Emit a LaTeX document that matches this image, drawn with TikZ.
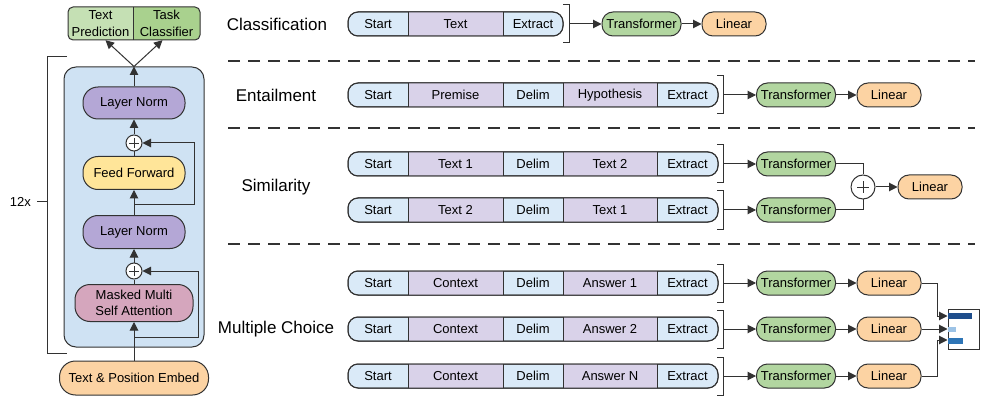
\documentclass[tikz,border=0pt]{standalone}
\usepackage{fontspec}
\setmainfont{Liberation Sans}
\usetikzlibrary{arrows.meta}
\definecolor{edge}{RGB}{50,50,50}
\definecolor{seqblue}{RGB}{218,234,248}
\definecolor{seqpurple}{RGB}{217,210,233}
\definecolor{trgreen}{RGB}{178,214,160}
\definecolor{linorange}{RGB}{252,211,163}
\definecolor{blkblue}{RGB}{207,226,243}
\definecolor{lnpurple}{RGB}{180,167,214}
\definecolor{ffyellow}{RGB}{255,229,153}
\definecolor{mmpink}{RGB}{213,166,189}
\definecolor{tpgreen}{RGB}{197,224,180}
\definecolor{tcgreen}{RGB}{169,209,142}
\definecolor{bardark}{RGB}{31,78,140}
\definecolor{barlight}{RGB}{157,195,230}
\definecolor{barmid}{RGB}{46,117,182}
\newcommand{\seqrow}[4]{%
 \filldraw[seqline, fill=seqblue, rounded corners=10pt] (348,#2-12) rectangle (718,#2+12);
 \fill[seqpurple] (408,#2-12) rectangle (503,#2+12);
 \fill[seqpurple] (563,#2-12) rectangle (657,#2+12);
 \draw[seqline, rounded corners=10pt] (348,#2-12) rectangle (718,#2+12);
 \foreach \xx in {408,503,563,657} \draw[seqline] (\xx,#2-12) -- (\xx,#2+12);
 \node[seqtxt] (#1a) at (378,#2) {Start};
 \node[seqtxt] (#1b) at (455.5,#2) {#3};
 \node[seqtxt] (#1c) at (533,#2) {Delim};
 \node[seqtxt] (#1d) at (610,#2) {#4};
 \node[seqtxt] (#1e) at (687.5,#2) {Extract};
 \draw[seqline] (717,#2-19) -- (723,#2-19) -- (723,#2+19) -- (717,#2+19);
 \coordinate (#1k) at (723,#2);
}
\begin{document}
\begin{tikzpicture}[x=1pt,y=-1pt,
 seqline/.style={draw=edge, line width=1pt},
 ln/.style={draw=edge, line width=1pt},
 arr/.style={ln, -{Triangle[length=8.5pt,width=8.5pt]}},
 txt/.style={font=\fontsize{13}{16.5}\selectfont},
 seqtxt/.style={txt, inner sep=0pt},
 pill/.style={txt, draw=edge, line width=1pt, rounded corners=11pt, minimum height=24pt, inner sep=0pt},
 block/.style={txt, draw=edge, line width=1pt, rounded corners=15pt, inner sep=0pt, align=center},
 plus/.style={circle, draw=edge, line width=1pt, fill=white, inner sep=0pt},
 lbl/.style={font=\fontsize{17}{20}\selectfont},
 sepline/.style={draw=edge, line width=1.1pt, dash pattern=on 12pt off 8pt}
]
\useasboundingbox (0,0) rectangle (982,398);
% ---------------- left column ----------------
\node[draw=edge, line width=1pt, fill=blkblue, rounded corners=12pt, minimum width=140pt, minimum height=280pt] (blk) at (134,207) {};
\draw[ln] (67,57) -- (47,57) -- (47,353) -- (67,353);
\coordinate (tick) at (47,202);
\node[txt, anchor=east, inner sep=0pt] (rep) at (31,202) {12x};
\draw[ln] (37,202) -- (tick);
% top output box
\fill[tcgreen, rounded corners=5pt] (68,7) rectangle (200,40);
\begin{scope}
 \clip[rounded corners=5pt] (68,7) rectangle (200,40);
 \fill[tpgreen] (68,7) rectangle (133,40);
\end{scope}
\draw[ln, rounded corners=5pt] (68,7) rectangle (200,40);
\draw[ln] (133,7) -- (133,40);
\node[txt, align=center, inner sep=0pt, minimum width=65pt, minimum height=33pt] (tp) at (100.5,23.5) {Text\\Prediction};
\node[txt, align=center, inner sep=0pt, minimum width=67pt, minimum height=33pt] (tc) at (166.5,23.5) {Task\\Classifier};
% blocks
\node[block, fill=lnpurple, minimum width=102pt, minimum height=32pt] (ln1) at (134,103) {Layer Norm};
\node[plus, minimum size=16pt] (p1) at (134,143) {};
\node[block, fill=ffyellow, minimum width=102pt, minimum height=33pt] (ff) at (134,173) {Feed Forward};
\node[block, fill=lnpurple, minimum width=102pt, minimum height=33pt] (ln2) at (134,232) {Layer Norm};
\node[plus, minimum size=16pt] (p2) at (134,271) {};
\node[block, fill=mmpink, minimum width=118pt, minimum height=37pt] (mm) at (134,303) {Masked Multi\\Self Attention};
\node[block, fill=linorange, minimum width=149pt, minimum height=34pt, rounded corners=16pt] (emb) at (134,378) {Text \& Position Embed};
\foreach \p in {p1,p2}{
 \draw[edge, line width=0.7pt] ([xshift=-5pt]\p.center) -- ([xshift=5pt]\p.center);
 \draw[edge, line width=0.7pt] ([yshift=-5pt]\p.center) -- ([yshift=5pt]\p.center);
}
\draw[arr] (emb.north) -- (mm.south);
\draw[ln] (mm.north) -- (p2.south);
\draw[arr] (p2.north) -- (ln2.south);
\draw[arr] (ln2.north) -- (ff.south);
\draw[ln] (ff.north) -- (p1.south);
\draw[arr] (p1.north) -- (ln1.south);
\draw[arr] (ln1.north) -- (blk.north);
\draw[arr] (blk.north) -- ([xshift=5pt]tp.south);
\draw[arr] (blk.north) -- ([xshift=-4pt]tc.south);
\coordinate (r1) at (134,205);
\draw[arr] (r1) -- (194,205) -- (194,143) -- (p1.east);
\coordinate (r2) at (134,337);
\draw[arr] (r2) -- (198,337) -- (198,271) -- (p2.east);
% ---------------- task labels & separators ----------------
\node[lbl] (lcl) at (277,24) {Classification};
\node[lbl] (len) at (276,95) {Entailment};
\node[lbl] (lsi) at (276,187) {Similarity};
\node[lbl] (lmc) at (276,329) {Multiple Choice};
\draw[sepline] (228,61) -- (975,61);
\draw[sepline] (228,128) -- (975,128);
\draw[sepline] (228,244) -- (975,244);
% ---------------- classification ----------------
\filldraw[seqline, fill=seqblue, rounded corners=10pt] (348,12) rectangle (563,36);
\fill[seqpurple] (408,12) rectangle (503,36);
\draw[seqline, rounded corners=10pt] (348,12) rectangle (563,36);
\draw[seqline] (408,12) -- (408,36);
\draw[seqline] (503,12) -- (503,36);
\node[seqtxt] (ca) at (378,24) {Start};
\node[seqtxt] (cb) at (455.5,24) {Text};
\node[seqtxt] (ce) at (533,24) {Extract};
\draw[seqline] (563,5) -- (569,5) -- (569,43) -- (563,43);
\coordinate (ck) at (569,24);
\node[pill, fill=trgreen, minimum width=79pt] (ct) at (641.5,24) {Transformer};
\node[pill, fill=linorange, minimum width=64pt] (cl) at (734,24) {Linear};
\draw[arr] (ck) -- (ct.west);
\draw[arr] (ct.east) -- (cl.west);
% ---------------- entailment ----------------
\seqrow{e}{95}{Premise}{Hypothesis}
\node[pill, fill=trgreen, minimum width=79pt] (et) at (796,95) {Transformer};
\node[pill, fill=linorange, minimum width=64pt] (el) at (889,95) {Linear};
\draw[arr] (ek) -- (et.west);
\draw[arr] (et.east) -- (el.west);
% ---------------- similarity ----------------
\seqrow{s}{164}{Text 1}{Text 2}
\seqrow{u}{210}{Text 2}{Text 1}
\node[pill, fill=trgreen, minimum width=79pt] (st1) at (796,164) {Transformer};
\node[pill, fill=trgreen, minimum width=79pt] (st2) at (796,210) {Transformer};
\node[plus, minimum size=24pt] (sp) at (863,187) {};
\draw[edge, line width=0.8pt] ([xshift=-6pt]sp.center) -- ([xshift=6pt]sp.center);
\draw[edge, line width=0.8pt] ([yshift=-6pt]sp.center) -- ([yshift=6pt]sp.center);
\node[pill, fill=linorange, minimum width=64pt] (sl) at (930,187) {Linear};
\draw[arr] (sk) -- (st1.west);
\draw[arr] (uk) -- (st2.west);
\draw[ln] (st1.east) -| (sp.north);
\draw[ln] (st2.east) -| (sp.south);
\draw[arr] (sp.east) -- (sl.west);
% ---------------- multiple choice ----------------
\seqrow{m}{283}{Context}{Answer 1}
\seqrow{n}{329}{Context}{Answer 2}
\seqrow{o}{376}{Context}{Answer N}
\node[pill, fill=trgreen, minimum width=79pt] (mt1) at (796,283) {Transformer};
\node[pill, fill=trgreen, minimum width=79pt] (mt2) at (796,329) {Transformer};
\node[pill, fill=trgreen, minimum width=79pt] (mt3) at (796,376) {Transformer};
\node[pill, fill=linorange, minimum width=64pt] (ml1) at (889,283) {Linear};
\node[pill, fill=linorange, minimum width=64pt] (ml2) at (889,329) {Linear};
\node[pill, fill=linorange, minimum width=64pt] (ml3) at (889,376) {Linear};
\draw[arr] (mk) -- (mt1.west);
\draw[arr] (nk) -- (mt2.west);
\draw[arr] (ok) -- (mt3.west);
\draw[arr] (mt1.east) -- (ml1.west);
\draw[arr] (mt2.east) -- (ml2.west);
\draw[arr] (mt3.east) -- (ml3.west);
\node[draw=edge, line width=1pt, fill=white, minimum width=31pt, minimum height=40pt, inner sep=0pt] (chart) at (963.5,329) {};
\fill[bardark] (948,313) rectangle (972,319);
\fill[barlight] (948,327) rectangle (956,332);
\fill[barmid] (948,338) rectangle (963,344);
\draw[arr] (ml1.east) -- (937,283) -- (937,316) -- ([yshift=13pt]chart.west);
\draw[arr] (ml2.east) -- (chart.west);
\draw[arr] (ml3.east) -- (937,376) -- (937,340) -- ([yshift=-11pt]chart.west);
\end{tikzpicture}
\end{document}
